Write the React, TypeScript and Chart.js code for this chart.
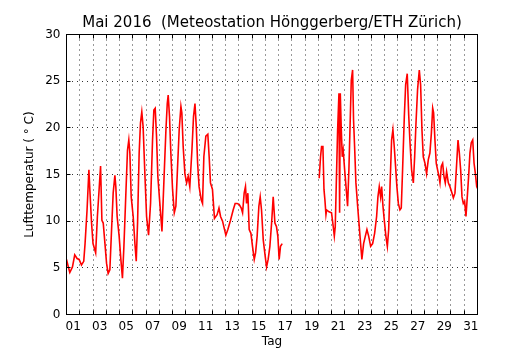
import { useEffect, useRef } from 'react';
import { Chart, registerables } from 'chart.js';
Chart.register(...registerables);

// Tage seit 1. Mai 00:00 (Bruchteile), Temperatur in °C
const tage1 = [0, 0.12, 0.25, 0.45, 0.62, 0.8, 0.95, 1.13, 1.3, 1.4,
  1.55, 1.69, 1.76, 1.89, 2.0, 2.2, 2.33, 2.46, 2.57, 2.67,
  2.77, 2.9, 3.02, 3.14, 3.27, 3.4, 3.52, 3.65, 3.72, 3.82,
  3.97, 4.1, 4.22, 4.33, 4.45, 4.6, 4.7, 4.78, 4.88, 5.03,
  5.16, 5.26, 5.36, 5.48, 5.58, 5.68, 5.78, 5.91, 6.04, 6.19,
  6.34, 6.49, 6.59, 6.69, 6.79, 6.89, 7.04, 7.2, 7.35, 7.5,
  7.6, 7.67, 7.77, 7.87, 8.0, 8.13, 8.25, 8.38, 8.5, 8.63,
  8.7, 8.8, 8.93, 9.06, 9.18, 9.3, 9.46, 9.58, 9.69, 9.79,
  9.89, 10.0, 10.16, 10.26, 10.36, 10.51, 10.66, 10.76, 10.86, 11.01,
  11.16, 11.36, 11.5, 11.62, 11.77, 11.92, 12.02, 12.17, 12.37, 12.57,
  12.72, 12.87, 13.02, 13.18, 13.28, 13.4, 13.5, 13.58, 13.68, 13.78,
  13.91, 14.03, 14.16, 14.26, 14.38, 14.51, 14.61, 14.71, 14.84, 14.99,
  15.09, 15.21, 15.34, 15.47, 15.59, 15.72, 15.84, 15.94, 16.04, 16.14,
  16.27];
const temp1 = [5.9, 5.2, 4.5, 5.1, 6.4, 6.0, 5.9, 5.3, 5.7, 7.6,
  11.2, 15.5, 13.4, 9.8, 7.6, 6.6, 10.5, 13.4, 15.9, 10.1,
  9.8, 7.6, 5.5, 4.4, 4.8, 9.1, 13.0, 14.9, 13.7, 10.5,
  8.4, 5.9, 3.9, 7.3, 11.9, 17.6, 18.7, 17.3, 12.6, 10.5,
  7.6, 5.7, 9.8, 17.3, 20.5, 21.7, 20.1, 15.1, 10.5, 8.5,
  11.9, 18.7, 21.9, 22.1, 19.1, 14.8, 11.9, 8.9, 14.4, 19.8,
  22.6, 23.5, 21.2, 17.3, 13.4, 10.9, 11.6, 15.9, 19.8, 22.3,
  21.6, 18.0, 15.1, 14.1, 14.8, 13.7, 17.6, 21.2, 22.6, 20.1,
  16.2, 13.7, 12.3, 11.9, 16.9, 19.1, 19.3, 16.9, 14.1, 13.4,
  10.3, 10.7, 11.4, 10.5, 10.0, 9.1, 8.5, 9.1, 10.1, 11.2,
  11.9, 11.9, 11.8, 11.4, 10.9, 13.0, 13.7, 11.9, 13.0, 9.1,
  8.7, 7.3, 5.9, 6.6, 8.4, 11.6, 12.6, 11.2, 8.0, 6.2,
  5.1, 5.9, 7.3, 9.8, 12.6, 9.8, 9.4, 8.4, 5.9, 7.3,
  7.6];

const tage2 = [19.06, 19.16, 19.24, 19.34, 19.42, 19.49, 19.57, 19.62, 19.8, 19.99,
  20.12, 20.2, 20.27, 20.35, 20.45, 20.55, 20.6, 20.65, 20.72, 20.8,
  20.87, 20.98, 21.1, 21.2, 21.3, 21.38, 21.48, 21.58, 21.65, 21.73,
  21.83, 21.96, 22.06, 22.16, 22.28, 22.41, 22.54, 22.66, 22.79, 22.94,
  23.09, 23.24, 23.39, 23.49, 23.59, 23.69, 23.77, 23.87, 23.99, 24.09,
  24.2, 24.3, 24.4, 24.52, 24.62, 24.72, 24.82, 24.92, 25.03, 25.15,
  25.25, 25.35, 25.48, 25.58, 25.7, 25.81, 25.91, 26.03, 26.16, 26.26,
  26.36, 26.48, 26.61, 26.71, 26.81, 26.91, 27.04, 27.16, 27.29, 27.41,
  27.52, 27.62, 27.69, 27.79, 27.89, 27.99, 28.09, 28.17, 28.27, 28.37,
  28.47, 28.57, 28.67, 28.8, 28.92, 29.08, 29.18, 29.3, 29.43, 29.53,
  29.63, 29.73, 29.83, 29.93, 30.03, 30.13, 30.23, 30.33, 30.43, 30.53,
  30.64, 30.74, 30.84, 30.94, 31.0];
const temp2 = [14.6, 16.9, 18.0, 18.0, 13.4, 12.3, 10.7, 11.2, 11.0, 10.9,
  9.4, 8.4, 9.4, 14.1, 19.8, 23.7, 10.9, 23.7, 20.1, 16.9,
  17.6, 15.5, 13.4, 11.6, 15.5, 19.8, 25.1, 26.2, 20.9, 18.0,
  14.1, 11.6, 9.8, 8.0, 5.9, 7.6, 8.4, 9.1, 8.4, 7.3,
  7.6, 8.7, 10.5, 12.6, 13.7, 12.6, 13.7, 11.6, 9.8, 8.4,
  7.3, 9.1, 13.7, 18.7, 19.8, 18.0, 15.9, 13.7, 11.9, 11.2,
  11.4, 15.5, 21.2, 24.6, 25.8, 21.4, 18.4, 15.5, 14.1, 16.9,
  20.5, 24.1, 26.2, 24.6, 19.8, 16.9, 16.2, 15.1, 16.6, 17.3,
  19.4, 22.1, 21.6, 18.7, 16.2, 15.5, 14.8, 14.1, 15.9, 16.2,
  14.8, 14.1, 15.3, 14.1, 13.7, 13.0, 12.5, 13.0, 16.2, 18.7,
  17.3, 15.5, 12.6, 11.9, 12.1, 10.5, 12.6, 14.8, 17.3, 18.4,
  18.7, 16.2, 15.1, 13.7, 13.5];

const tagLabels = ['01', '03', '05', '07', '09', '11', '13', '15', '17', '19', '21', '23', '25', '27', '29', '31'];
const tagGrenzen = Array.from({ length: 30 }, (_, i) => i + 1);
const yTicks = [0, 5, 10, 15, 20, 25, 30];

const FONT = 'DejaVu Sans';

export default function App() {
  const ref = useRef<HTMLCanvasElement>(null);
  useEffect(() => {
    if (!ref.current) return;
    const align = (p: number) => Math.round(p - 0.5) + 0.5;
    const frame = {
      id: 'frame',
      afterDraw(chart: any) {
        const { ctx, chartArea: a, scales } = chart;
        ctx.save();
        ctx.strokeStyle = '#000';
        ctx.lineWidth = 1;
        ctx.beginPath();
        for (const d of tagGrenzen) {
          const x = align(scales.x.getPixelForValue(d));
          ctx.moveTo(x, a.bottom); ctx.lineTo(x, a.bottom - 4);
          ctx.moveTo(x, a.top); ctx.lineTo(x, a.top + 4);
        }
        for (const v of yTicks.slice(1, -1)) {
          const y = align(scales.y.getPixelForValue(v));
          ctx.moveTo(a.left, y); ctx.lineTo(a.left + 4, y);
          ctx.moveTo(a.right, y); ctx.lineTo(a.right - 4, y);
        }
        ctx.stroke();
        ctx.strokeRect(a.left, a.top, a.right - a.left, a.bottom - a.top);
        ctx.restore();
      },
    };
    const chart = new Chart(ref.current, {
      type: 'line',
      data: {
        datasets: [
          { data: tage1.map((x, i) => ({ x, y: temp1[i] })) },
          { data: tage2.map((x, i) => ({ x, y: temp2[i] })) },
        ].map((d) => ({
          ...d,
          xAxisID: 'x',
          yAxisID: 'y',
          borderColor: 'rgb(255,0,0)',
          borderWidth: 1.6,
          pointRadius: 0,
          tension: 0,
          fill: false,
        })),
      },
      options: {
        animation: false,
        responsive: false,
        devicePixelRatio: 1,
        layout: { padding: { left: 0, right: 52.5, top: 0, bottom: 0 } },
        plugins: {
          legend: { display: false },
          tooltip: { enabled: false },
          title: {
            display: true,
            text: 'Mai 2016  (Meteostation Hönggerberg/ETH Zürich)',
            color: '#000',
            font: { family: FONT, size: 15, weight: 'normal', lineHeight: 1.2 },
            padding: { top: 14.5, bottom: 2 },
            fullSize: false,
          },
        },
        scales: {
          x: {
            type: 'linear',
            position: 'bottom',
            min: 0,
            max: 31,
            afterBuildTicks: (s: any) => { s.ticks = tagGrenzen.map((value) => ({ value })); },
            ticks: { display: false },
            grid: { color: '#333', lineWidth: 1, drawTicks: false },
            border: { display: false, dash: [1, 4] },
            afterFit: (s: any) => { s.height = 0; },
          },
          xl: {
            type: 'linear',
            position: 'bottom',
            min: 0,
            max: 31,
            afterBuildTicks: (s: any) => { s.ticks = tagLabels.map((l) => ({ value: Number(l) - 0.5 })); },
            ticks: {
              callback: (_v: any, i: number) => tagLabels[i],
              color: '#000',
              font: { family: FONT, size: 12 },
              padding: 5.5,
              maxRotation: 0,
              autoSkip: false,
            },
            grid: { display: false, drawTicks: false },
            border: { display: false },
            title: {
              display: true,
              text: 'Tag',
              color: '#000',
              font: { family: FONT, size: 12, lineHeight: 1.2 },
              padding: { top: 0, bottom: 1.3 },
            },
            afterFit: (s: any) => { s.height = 35.5; },
          },
          y: {
            type: 'linear',
            position: 'left',
            min: 0,
            max: 30,
            afterBuildTicks: (s: any) => { s.ticks = yTicks.map((value) => ({ value })); },
            ticks: {
              color: '#000',
              font: { family: FONT, size: 12 },
              padding: 6,
            },
            grid: { color: '#333', lineWidth: 1, drawTicks: false },
            border: { display: false, dash: [1, 4] },
            title: {
              display: true,
              text: 'Lufttemperatur ( ° C)',
              color: '#000',
              font: { family: FONT, size: 12, lineHeight: 1.2 },
              padding: { top: 22.8, bottom: 0 },
            },
            afterFit: (s: any) => { s.width = 66.5; },
          },
        },
      } as any,
      plugins: [frame],
    });
    return () => chart.destroy();
  }, []);
  return (
    <div style={{ position: 'fixed', left: 0, top: 0, width: 530, height: 350, background: '#fff' }}>
      <canvas ref={ref} width={530} height={350} />
    </div>
  );
}
